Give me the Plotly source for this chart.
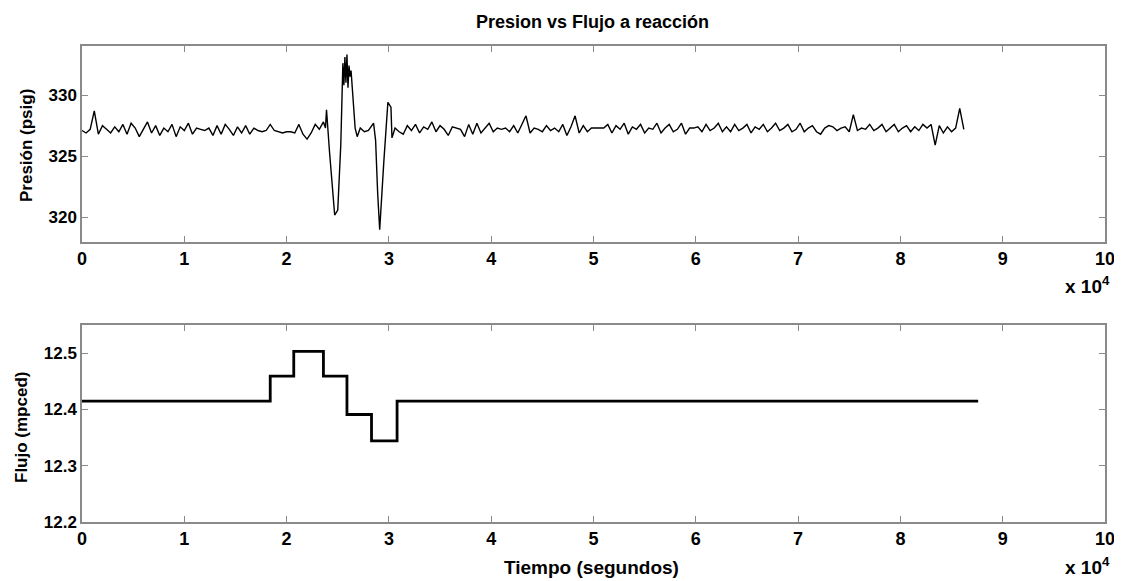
import plotly.graph_objects as go

# The page body adds an 8 px offset; the figure is sized so it fills the
# 1122x581 window exactly.
OFF = 8
W, H = 1122 - OFF, 581 - OFF

# ---------------- data ----------------
# Pressure, quiet part before the disturbance (every 400 s from 0 to 23600 s)
t_a = list(range(0, 23601, 400))
p_a = [327.1, 326.9, 327.2, 328.7, 326.8, 327.5, 327.2, 326.9, 327.4, 327.0,
       327.6, 326.8, 327.7, 327.3, 326.6, 327.2, 327.8, 326.9, 327.5, 326.7,
       327.3, 327.0, 327.6, 326.6, 327.4, 327.1, 327.7, 326.8, 327.3, 327.2,
       327.1, 327.3, 326.7, 327.5, 326.8, 327.6, 327.2, 326.7, 327.4, 326.9,
       327.5, 326.8, 327.3, 327.1, 327.0, 327.1, 327.6, 327.1, 327.0, 326.9,
       327.0, 327.0, 326.9, 327.6, 326.8, 326.4, 326.9, 327.6, 327.2, 327.8]

# Pressure during the disturbance
t_b = [23800, 23900, 24200, 24500, 24700, 25000, 25300, 25500, 25600, 25700,
       25800, 25900, 26000, 26100, 26200, 26300, 26700, 26900, 27200, 27600,
       28000, 28500, 28700, 28900, 29100, 29500, 29900, 30200, 30300, 30600]
p_b = [327.3, 328.8, 325.3, 322.5, 320.2, 320.6, 326.0, 332.6, 330.8, 333.1,
       331.0, 333.3, 330.6, 332.4, 331.5, 332.0, 327.3, 326.6, 327.3, 327.0,
       327.1, 327.7, 326.3, 322.0, 319.0, 324.5, 329.4, 329.0, 326.5, 327.3]

# Pressure after the disturbance (every 400 s from 31000 to 86200 s)
t_c = list(range(31000, 86201, 400))
p_c = [327.0, 326.8, 327.5, 327.1, 327.6, 326.9, 327.4, 327.2, 327.8, 327.0,
       327.5, 327.2, 326.7, 327.4, 327.3, 327.2, 326.6, 327.6, 326.8, 327.7,
       326.9, 327.3, 327.7, 327.0, 327.3, 327.2, 327.3, 327.0, 327.5, 326.9,
       327.6, 328.3, 326.9, 327.3, 327.2, 327.0, 327.5, 327.1, 327.3, 327.0,
       327.6, 326.7, 327.4, 328.3, 326.9, 327.5, 327.0, 327.3, 327.3, 327.3,
       327.3, 327.6, 326.9, 327.5, 327.2, 327.7, 326.8, 327.4, 327.2, 327.6,
       326.9, 327.3, 327.2, 327.7, 326.9, 327.3, 327.6, 327.0, 327.2, 327.7,
       326.8, 327.3, 327.3, 327.4, 327.0, 327.6, 327.1, 327.3, 327.7, 327.0,
       327.4, 327.0, 327.6, 327.1, 327.3, 327.6, 326.9, 327.4, 327.2, 327.6,
       327.0, 327.3, 327.7, 327.1, 327.3, 327.6, 327.0, 327.2, 327.7, 327.0,
       327.3, 327.5, 327.0, 326.8, 327.3, 327.5, 327.4, 327.1, 327.3, 327.4,
       327.0, 328.4, 327.1, 327.3, 327.2, 327.6, 327.1, 327.3, 327.6, 327.0,
       327.3, 327.6, 327.0, 327.3, 327.5, 327.0, 327.4, 327.1, 327.6, 327.3,
       327.6, 325.9, 327.5, 326.9, 327.4, 327.0, 327.3, 328.9, 327.2]

tiempo_p = t_a + t_b + t_c
presion = p_a + p_b + p_c

# Flow (step changes)
tiempo_f = [0, 18400, 20700, 23600, 25900, 28300, 30800, 87600]
flujo = [12.4146, 12.459, 12.503, 12.459, 12.391, 12.344, 12.4146, 12.4146]

x_tickvals = [0, 10000, 20000, 30000, 40000, 50000, 60000, 70000, 80000, 90000, 100000]
x_ticktext = ["0", "1", "2", "3", "4", "5", "6", "7", "8", "9", "10"]
p_ticks = [320, 325, 330]
p_ticktext = ["320", "325", "330"]
f_ticks = [12.2, 12.3, 12.4, 12.5]
f_ticktext = ["12.2", "12.3", "12.4", "12.5"]

title = "Presion vs Flujo a reacción"
ylab_p = "Presión (psig)"
ylab_f = "Flujo (mpced)"
xlab = "Tiempo (segundos)"

# ---------------- layout helpers (reference window pixels -> paper) ----------------
def px_x(px):
    return (px - OFF) / W

def px_y(py):
    return 1 - (py - OFF) / H

def bold(lst):
    return ["<b>%s</b>" % s for s in lst]

FONT = "Liberation Sans, Arial, sans-serif"
AXC = "#8a8a8a"

fig = go.Figure()
fig.add_trace(go.Scatter(x=tiempo_p, y=presion, mode="lines",
                         line=dict(color="black", width=1.4),
                         xaxis="x", yaxis="y", showlegend=False))
fig.add_trace(go.Scatter(x=tiempo_f, y=flujo, mode="lines", line_shape="hv",
                         line=dict(color="black", width=2.8),
                         xaxis="x2", yaxis="y2", showlegend=False))

xdom = [px_x(82), px_x(1105)]
common_x = dict(range=[0, 100000], tickvals=x_tickvals, ticktext=bold(x_ticktext),
                ticks="inside", ticklen=6, tickcolor=AXC, tickwidth=1,
                showline=True, linecolor=AXC, linewidth=1.5, mirror="ticks",
                showgrid=False, zeroline=False, automargin=False,
                tickfont=dict(family=FONT, size=18, color="black"),
                domain=xdom)
common_y = dict(ticks="inside", ticklen=6, tickcolor=AXC, tickwidth=1,
                showline=True, linecolor=AXC, linewidth=1.5, mirror="ticks",
                showgrid=False, zeroline=False, automargin=False,
                tickfont=dict(family=FONT, size=17, color="black"))

fig.update_layout(
    width=W, height=H,
    margin=dict(l=0, r=0, t=0, b=0),
    paper_bgcolor="white", plot_bgcolor="white",
    xaxis=dict(common_x, anchor="y"),
    yaxis=dict(common_y, range=[318, 334], tickvals=p_ticks,
               ticktext=bold(p_ticktext),
               domain=[px_y(242), px_y(46)], anchor="x"),
    xaxis2=dict(common_x, anchor="y2"),
    yaxis2=dict(common_y, range=[12.2, 12.55], tickvals=f_ticks,
                ticktext=bold(f_ticktext),
                domain=[px_y(522), px_y(325)], anchor="x2"),
)

def font(size):
    return dict(family=FONT, size=size, color="black")

annotations = [
    dict(text="<b>%s</b>" % title, x=px_x(592), y=px_y(22), xref="paper", yref="paper",
         showarrow=False, font=font(18), xanchor="center", yanchor="middle"),
    dict(text="<b>%s</b>" % ylab_p, x=px_x(26), y=px_y(146), xref="paper", yref="paper",
         showarrow=False, font=font(17), textangle=-90,
         xanchor="center", yanchor="middle"),
    dict(text="<b>%s</b>" % ylab_f, x=px_x(21), y=px_y(428), xref="paper", yref="paper",
         showarrow=False, font=font(17), textangle=-90,
         xanchor="center", yanchor="middle"),
    dict(text="<b>%s</b>" % xlab, x=px_x(591), y=px_y(567), xref="paper", yref="paper",
         showarrow=False, font=font(19), xanchor="center", yanchor="middle"),
    dict(text="<b>x 10<sup>4</sup></b>", x=px_x(1087), y=px_y(285), xref="paper", yref="paper",
         showarrow=False, font=font(19), xanchor="center", yanchor="middle"),
    dict(text="<b>x 10<sup>4</sup></b>", x=px_x(1087), y=px_y(566), xref="paper", yref="paper",
         showarrow=False, font=font(19), xanchor="center", yanchor="middle"),
]
fig.update_layout(annotations=annotations)

fig.write_html("out.html")
